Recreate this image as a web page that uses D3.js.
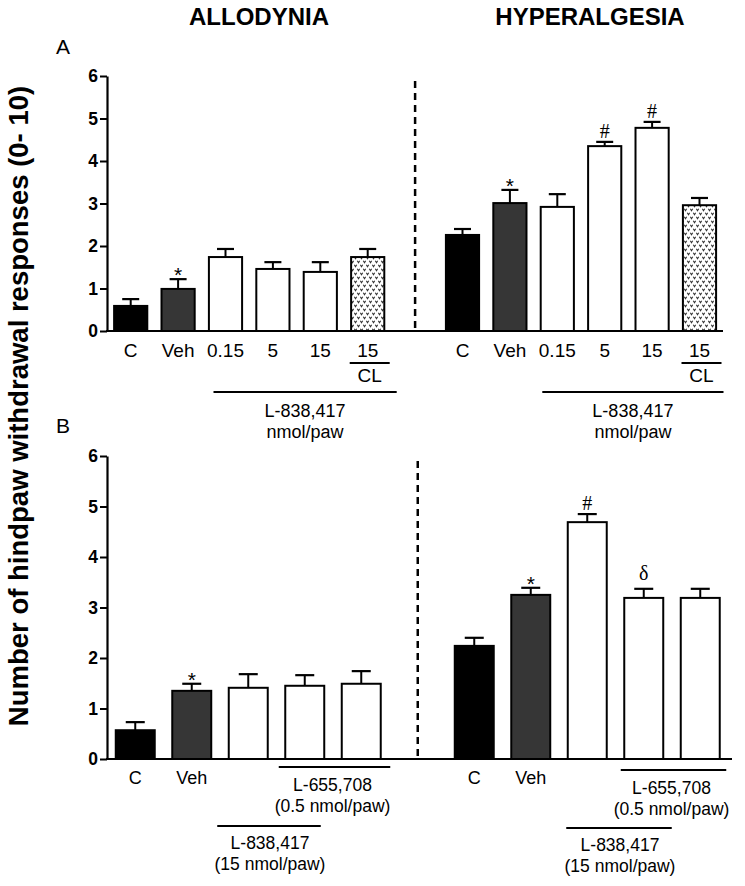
<!DOCTYPE html>
<html>
<head>
<meta charset="utf-8">
<script src="https://cdn.jsdelivr.net/npm/d3@7/dist/d3.min.js"></script>
<style>
  html, body { margin: 0; padding: 0; background: #fff; }
  svg { display: block; }
  text { font-family: Arial, "Liberation Sans", Helvetica, sans-serif; fill: #000; }
</style>
</head>
<body>
<svg id="chart" width="745" height="886"></svg>
<script>
// ---------------- DATA ----------------
const yTicks = [0, 1, 2, 3, 4, 5, 6];

// Panel A
const aCategories = ["C", "Veh", "0.15", "5", "15", "15"];
const aGroups = ["control", "vehicle", "drug", "drug", "drug", "cl"];
const aAllodyniaMean = [0.59, 0.99, 1.74, 1.46, 1.39, 1.74];
const aAllodyniaSem  = [0.16, 0.23, 0.19, 0.16, 0.23, 0.19];
const aAllodyniaSig  = ["", "*", "", "", "", ""];
const aHyperMean = [2.26, 3.01, 2.92, 4.35, 4.78, 2.96];
const aHyperSem  = [0.14, 0.31, 0.30, 0.10, 0.14, 0.17];
const aHyperSig  = ["", "*", "", "#", "#", ""];

// Panel B
const bCategories = ["C", "Veh", "", "", ""];
const bGroups = ["control", "vehicle", "drug", "drug", "drug"];
const bAllodyniaMean = [0.57, 1.35, 1.41, 1.45, 1.49];
const bAllodyniaSem  = [0.16, 0.14, 0.27, 0.21, 0.25];
const bAllodyniaSig  = ["", "*", "", "", ""];
const bHyperMean = [2.24, 3.25, 4.69, 3.19, 3.19];
const bHyperSem  = [0.16, 0.14, 0.16, 0.18, 0.18];
const bHyperSig  = ["", "*", "#", "δ", ""];

const titles = ["ALLODYNIA", "HYPERALGESIA"];
const yLabel = "Number of hindpaw withdrawal responses (0- 10)";

// ---------------- DRAWING ----------------
const svg = d3.select("#chart");
const FONT = 'Arial, "Liberation Sans", Helvetica, sans-serif';
const fills = { control: "#000000", vehicle: "#363636", drug: "#ffffff", cl: "url(#hatch)" };

// hatch pattern (small v marks)
const defs = svg.append("defs");
const pat = defs.append("pattern").attr("id", "hatch").attr("patternUnits", "userSpaceOnUse")
  .attr("width", 6).attr("height", 8);
pat.append("rect").attr("width", 6).attr("height", 8).attr("fill", "#fff");
pat.append("path").attr("d", "M0.3,0.8 L1.5,2.8 L2.7,0.8 M3.3,4.8 L4.5,6.8 L5.7,4.8")
  .attr("fill", "none").attr("stroke", "#333").attr("stroke-width", 1.1);

// titles
svg.append("text").attr("x", 259).attr("y", 25).attr("text-anchor", "middle")
  .attr("font-size", 24).attr("font-weight", "bold").text(titles[0]);
svg.append("text").attr("x", 590).attr("y", 25).attr("text-anchor", "middle")
  .attr("font-size", 24).attr("font-weight", "bold").text(titles[1]);

// y label
svg.append("text").attr("transform", "translate(28,406) rotate(-90)")
  .attr("text-anchor", "middle").attr("font-size", 27.5).attr("font-weight", "bold").text(yLabel);

function panel(opts) {
  const g = svg.append("g");
  const y = d3.scaleLinear().domain([0, 6]).range([opts.y0, opts.y6]);
  const n = opts.cats.length;
  const slots = d3.range(2 * n + 1);
  const x = d3.scaleBand().domain(slots).range([107, 107 + opts.step * (2 * n + 1)])
    .paddingInner(opts.pad).paddingOuter(opts.pad / 2);
  const bw = x.bandwidth();
  const cx = i => x(i) + bw / 2;

  // letter
  g.append("text").attr("x", 56).attr("y", opts.letterY).attr("font-size", 21).text(opts.letter);

  // dashed separator
  g.append("line").attr("x1", cx(n)).attr("x2", cx(n)).attr("y1", opts.y6 + 5).attr("y2", y(0))
    .attr("stroke", "#000").attr("stroke-width", 2.5).attr("stroke-dasharray", "7,5");

  const sides = [
    { mean: opts.allMean, sem: opts.allSem, sig: opts.allSig, off: 0 },
    { mean: opts.hypMean, sem: opts.hypSem, sig: opts.hypSig, off: n + 1 }
  ];
  sides.forEach(s => {
    const data = s.mean.map((v, i) => ({ v, e: s.sem[i], sig: s.sig[i], grp: opts.groups[i], cat: opts.cats[i], slot: i + s.off }));
    // error bars
    g.selectAll(null).data(data).enter().append("line")
      .attr("x1", d => cx(d.slot)).attr("x2", d => cx(d.slot))
      .attr("y1", d => y(d.v)).attr("y2", d => y(d.v + d.e))
      .attr("stroke", "#000").attr("stroke-width", 2);
    g.selectAll(null).data(data).enter().append("line")
      .attr("x1", d => cx(d.slot) - opts.cap / 2).attr("x2", d => cx(d.slot) + opts.cap / 2)
      .attr("y1", d => y(d.v + d.e)).attr("y2", d => y(d.v + d.e))
      .attr("stroke", "#000").attr("stroke-width", 2.2);
    // bars
    g.selectAll(null).data(data).enter().append("rect")
      .attr("x", d => x(d.slot)).attr("width", bw)
      .attr("y", d => y(d.v)).attr("height", d => y(0) - y(d.v))
      .attr("fill", d => fills[d.grp]).attr("stroke", "#000").attr("stroke-width", 2);
    // significance marks
    g.selectAll(null).data(data.filter(d => d.sig)).enter().append("text")
      .attr("x", d => cx(d.slot))
      .attr("y", d => y(d.v + d.e) + (d.sig === "*" ? 3 : d.sig === "#" ? -4 : -9))
      .attr("text-anchor", "middle")
      .attr("font-size", d => d.sig === "*" ? 21 : 20)
      .style("font-family", d => d.sig === "*" ? FONT : '"Liberation Serif", "Times New Roman", serif')
      .text(d => d.sig);
    // category labels
    g.selectAll(null).data(data.filter(d => d.cat)).enter().append("text")
      .attr("x", d => cx(d.slot)).attr("y", opts.catY).attr("text-anchor", "middle")
      .attr("font-size", opts.catSize).text(d => d.cat);
  });

  // x axis baseline
  g.append("line").attr("x1", 106).attr("x2", opts.xEnd).attr("y1", y(0)).attr("y2", y(0))
    .attr("stroke", "#000").attr("stroke-width", 2.2);

  // y axis
  const ax = g.append("g").attr("transform", "translate(107,0)")
    .call(d3.axisLeft(y).tickValues(yTicks).tickFormat(d3.format("d")).tickSize(7).tickSizeOuter(0).tickPadding(2));
  ax.select(".domain").attr("stroke-width", 2.2);
  ax.selectAll(".tick line").attr("stroke-width", 2);
  ax.selectAll(".tick text").attr("font-size", 17.5).attr("font-weight", "bold")
    .attr("font-family", FONT).attr("fill", "#000");

  return { g, x, y, cx, n };
}

// ---- Panel A ----
const A = panel({
  letter: "A", letterY: 54, y0: 331, y6: 76, step: 47.4, pad: 0.3, cap: 17, xEnd: 723,
  cats: aCategories, groups: aGroups, catY: 357, catSize: 19,
  allMean: aAllodyniaMean, allSem: aAllodyniaSem, allSig: aAllodyniaSig,
  hypMean: aHyperMean, hypSem: aHyperSem, hypSig: aHyperSig
});
[0, A.n + 1].forEach((off, k) => {
  const clC = A.cx(off + 5);
  A.g.append("line").attr("x1", clC - 18).attr("x2", clC + 22).attr("y1", 363).attr("y2", 363)
    .attr("stroke", "#000").attr("stroke-width", 2);
  A.g.append("text").attr("x", clC + 2).attr("y", 382).attr("text-anchor", "middle")
    .attr("font-size", 19).text("CL");
  const x1 = A.cx(off + 2) - (k === 0 ? 12 : 15), x2 = A.cx(off + 5) + (k === 0 ? 29 : 24);
  A.g.append("line").attr("x1", x1).attr("x2", x2).attr("y1", 392).attr("y2", 392)
    .attr("stroke", "#000").attr("stroke-width", 2);
  A.g.append("text").attr("x", (x1 + x2) / 2).attr("y", 417).attr("text-anchor", "middle")
    .attr("font-size", 18).text("L-838,417");
  A.g.append("text").attr("x", (x1 + x2) / 2).attr("y", 438).attr("text-anchor", "middle")
    .attr("font-size", 18).text("nmol/paw");
});

// ---- Panel B ----
const B = panel({
  letter: "B", letterY: 433, y0: 759, y6: 456, step: 56.5, pad: 0.31, cap: 19, xEnd: 732,
  cats: bCategories, groups: bGroups, catY: 784, catSize: 18,
  allMean: bAllodyniaMean, allSem: bAllodyniaSem, allSig: bAllodyniaSig,
  hypMean: bHyperMean, hypSem: bHyperSem, hypSig: bHyperSig
});
[0, B.n + 1].forEach((off, k) => {
  // L-655,708 over last two bars
  const a1 = B.cx(off + 3) - (k === 0 ? 26 : 23), a2 = B.cx(off + 4) + (k === 0 ? 29 : 26);
  const ly = k === 0 ? 767 : 770;
  B.g.append("line").attr("x1", a1).attr("x2", a2).attr("y1", ly).attr("y2", ly)
    .attr("stroke", "#000").attr("stroke-width", 2);
  B.g.append("text").attr("x", (a1 + a2) / 2 - 2).attr("y", ly + 24).attr("text-anchor", "middle")
    .attr("font-size", 17.5).text("L-655,708");
  B.g.append("text").attr("x", (a1 + a2) / 2 - 2).attr("y", ly + 45).attr("text-anchor", "middle")
    .attr("font-size", 17.5).text("(0.5 nmol/paw)");
  // L-838,417 under bars 3..5
  const b1 = B.cx(off + 2) - (k === 0 ? 31 : 21), b2 = B.cx(off + 3) + (k === 0 ? 16 : 28);
  const ly2 = k === 0 ? 826 : 828;
  B.g.append("line").attr("x1", b1).attr("x2", b2).attr("y1", ly2).attr("y2", ly2)
    .attr("stroke", "#000").attr("stroke-width", 2);
  B.g.append("text").attr("x", (b1 + b2) / 2 + 1).attr("y", ly2 + 23).attr("text-anchor", "middle")
    .attr("font-size", 17.5).text("L-838,417");
  B.g.append("text").attr("x", (b1 + b2) / 2 + 1).attr("y", ly2 + 44).attr("text-anchor", "middle")
    .attr("font-size", 17.5).text("(15 nmol/paw)");
});
</script>
</body>
</html>
